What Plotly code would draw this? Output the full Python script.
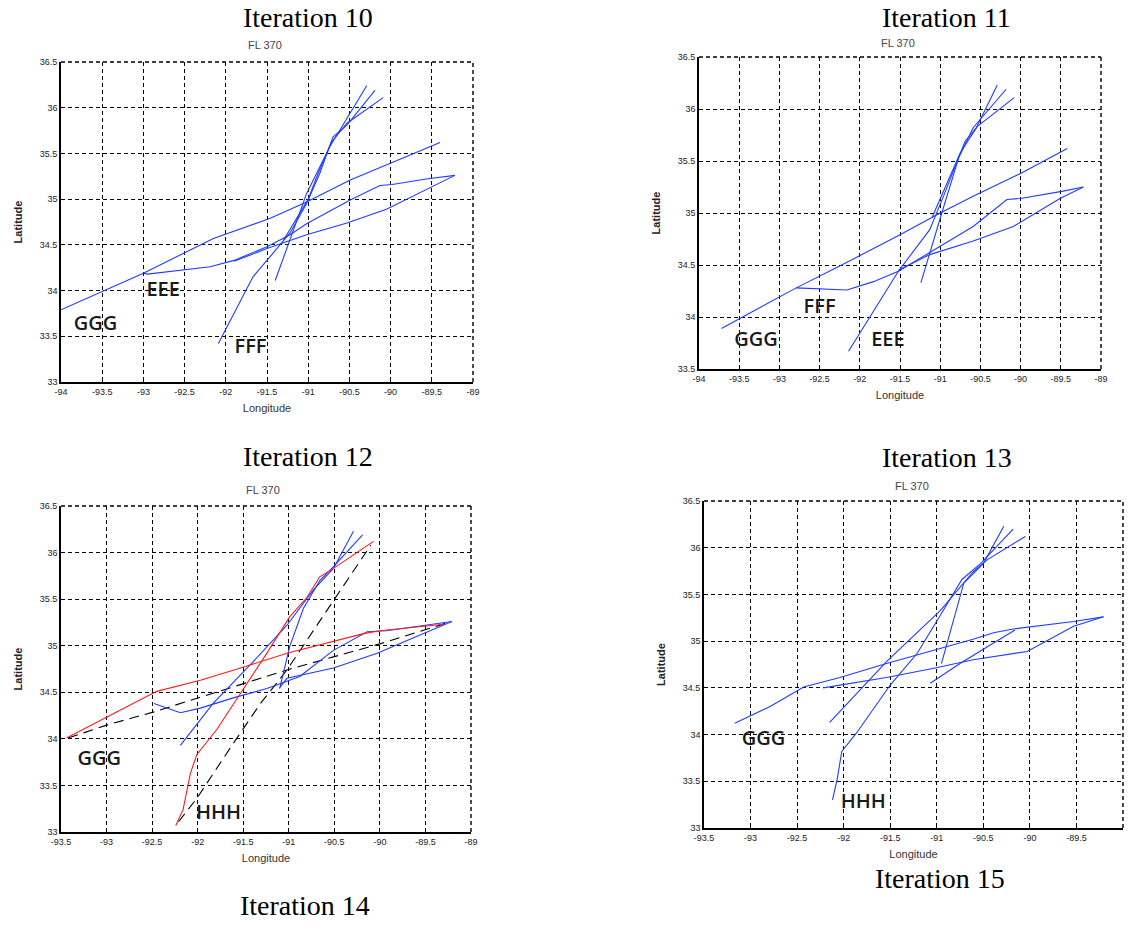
import plotly.graph_objects as go

W, H = 1129, 946

# ---------------- data (lon, lat) ----------------
# Iteration 10
it10_a_lon = [-94.0, -93.0, -92.15, -91.46, -91.02, -90.49, -90.01, -89.40]
it10_a_lat = [33.79, 34.19, 34.57, 34.79, 34.97, 35.21, 35.39, 35.62]
it10_b_lon = [-93.0, -92.95, -92.19, -91.9, -91.5, -91.22, -91.02, -90.49, -90.13, -89.98, -89.57, -89.22]
it10_b_lat = [34.19, 34.18, 34.26, 34.33, 34.48, 34.61, 34.73, 34.99, 35.15, 35.16, 35.22, 35.26]
it10_c_lon = [-89.22, -90.05, -90.53, -91.02, -91.5, -91.9]
it10_c_lat = [35.26, 34.89, 34.74, 34.61, 34.46, 34.32]
it10_d_lon = [-92.09, -91.67, -91.22, -91.02, -90.86, -90.70, -90.53, -90.19]
it10_d_lat = [33.42, 34.15, 34.63, 34.95, 35.28, 35.68, 35.81, 36.19]
it10_e_lon = [-91.40, -91.02, -90.74, -90.29]
it10_e_lat = [34.11, 35.06, 35.57, 36.24]
it10_f_lon = [-91.30, -91.0, -90.88, -90.72, -90.53, -90.09]
it10_f_lat = [34.55, 35.0, 35.28, 35.62, 35.83, 36.11]

# Iteration 11
it11_a_lon = [-93.72, -92.79, -92.25, -91.5, -91.0, -90.59, -90.0, -89.42]
it11_a_lat = [33.89, 34.28, 34.49, 34.79, 35.0, 35.16, 35.38, 35.62]
it11_b_lon = [-92.79, -92.41, -92.16, -91.83, -91.52, -91.13, -90.59, -90.17, -90.0, -89.47, -89.22]
it11_b_lat = [34.28, 34.27, 34.26, 34.34, 34.44, 34.62, 34.87, 35.13, 35.14, 35.21, 35.25]
it11_c_lon = [-89.22, -89.51, -90.09, -90.59, -91.13, -91.52]
it11_c_lat = [35.25, 35.14, 34.87, 34.73, 34.60, 34.45]
it11_d_lon = [-92.14, -91.52, -91.13, -90.96, -90.69, -90.55, -90.29]
it11_d_lat = [33.67, 34.44, 34.84, 35.16, 35.69, 35.82, 36.23]
it11_e_lon = [-91.24, -91.13, -90.98, -90.77, -90.59, -90.18]
it11_e_lat = [34.33, 34.62, 35.0, 35.53, 35.82, 36.19]
it11_f_lon = [-91.10, -90.88, -90.75, -90.54, -90.08]
it11_f_lat = [34.96, 35.35, 35.58, 35.83, 36.11]

# Iteration 12
it12_r1_lon = [-93.44, -92.45, -91.97, -91.53, -91.02, -90.58, -90.18, -90.0, -89.30]
it12_r1_lat = [34.01, 34.51, 34.63, 34.76, 34.92, 35.03, 35.13, 35.16, 35.23]
it12_r2_lon = [-92.24, -92.16, -92.08, -92.01, -91.79, -91.53, -91.24, -90.99, -90.80, -90.66, -90.51, -90.07]
it12_r2_lat = [33.07, 33.24, 33.63, 33.83, 34.10, 34.49, 34.92, 35.31, 35.52, 35.74, 35.83, 36.12]
it12_b1_lon = [-92.19, -91.83, -91.39, -91.02, -90.73, -90.51, -90.29]
it12_b1_lat = [33.93, 34.38, 34.83, 35.22, 35.60, 35.83, 36.23]
it12_b2_lon = [-91.10, -90.99, -90.84, -90.66, -90.51, -90.19]
it12_b2_lat = [34.54, 34.99, 35.40, 35.70, 35.85, 36.19]
it12_b3_lon = [-92.48, -92.19, -91.97, -91.61, -91.24, -90.88, -90.51, -90.14, -89.93, -89.21]
it12_b3_lat = [34.38, 34.28, 34.33, 34.44, 34.54, 34.67, 34.95, 35.15, 35.16, 35.26]
it12_b4_lon = [-89.21, -89.52, -90.03, -90.51, -91.02, -91.10]
it12_b4_lat = [35.26, 35.13, 34.92, 34.76, 34.65, 34.55]
it12_k1_lon = [-93.42, -92.99, -92.48, -91.97, -91.46, -91.02, -90.51, -90.0, -89.41, -89.25]
it12_k1_lat = [34.01, 34.15, 34.29, 34.45, 34.61, 34.74, 34.88, 35.02, 35.20, 35.25]
it12_k2_lon = [-92.21, -92.01, -91.61, -91.31, -91.02, -90.80, -90.51, -90.22, -90.10]
it12_k2_lat = [33.11, 33.36, 33.95, 34.38, 34.74, 35.06, 35.49, 35.90, 36.08]

# Iteration 13
it13_l1_lon = [-93.17, -92.79, -92.43, -92.04, -91.54, -90.96, -90.61, -90.39, -90.18, -89.53, -89.21]
it13_l1_lat = [34.12, 34.30, 34.51, 34.61, 34.76, 34.92, 35.02, 35.09, 35.13, 35.21, 35.26]
it13_l2_lon = [-89.21, -89.53, -90.03, -90.61, -91.03, -91.54, -92.22]
it13_l2_lat = [35.26, 35.16, 34.89, 34.80, 34.71, 34.61, 34.50]
it13_l3_lon = [-91.07, -90.75, -90.39, -90.16]
it13_l3_lat = [34.55, 34.76, 34.98, 35.12]
it13_l4_lon = [-92.15, -91.54, -90.96, -90.61, -90.46, -90.05]
it13_l4_lat = [34.13, 34.78, 35.33, 35.74, 35.87, 36.12]
it13_l5_lon = [-92.12, -92.07, -92.02, -91.86, -91.50, -91.21, -90.96, -90.73, -90.53, -90.18]
it13_l5_lat = [33.30, 33.52, 33.82, 34.02, 34.53, 34.87, 35.28, 35.66, 35.83, 36.20]
it13_l6_lon = [-90.95, -90.87, -90.71, -90.50, -90.28]
it13_l6_lat = [34.76, 35.05, 35.62, 35.83, 36.23]

# labels
it10_labels = ["EEE", "GGG", "FFF"]
it10_lab_lon = [-92.76, -93.58, -91.70]
it10_lab_lat = [33.99, 33.62, 33.37]
it11_labels = ["FFF", "GGG", "EEE"]
it11_lab_lon = [-92.50, -93.29, -91.65]
it11_lab_lat = [34.09, 33.77, 33.77]
it12_labels = ["GGG", "HHH"]
it12_lab_lon = [-93.08, -91.77]
it12_lab_lat = [33.77, 33.19]
it13_labels = ["GGG", "HHH"]
it13_lab_lon = [-92.86, -91.79]
it13_lab_lat = [33.94, 33.27]

# tick values / labels (plain hyphen minus, as in the original)
lon_ticks_a = [-94, -93.5, -93, -92.5, -92, -91.5, -91, -90.5, -90, -89.5, -89]
lon_ticks_b = [-93.5, -93, -92.5, -92, -91.5, -91, -90.5, -90, -89.5, -89]
lat_ticks_a = [33, 33.5, 34, 34.5, 35, 35.5, 36, 36.5]
lat_ticks_b = [33.5, 34, 34.5, 35, 35.5, 36, 36.5]

titles = ["Iteration 10", "Iteration 11", "Iteration 12", "Iteration 13"]
subtitle = "FL 370"
bottom_titles = ["Iteration 14", "Iteration 15"]


def fmt(v):
    return ("%g" % v)


# ---------------- layout helpers ----------------
BLUE = "#1f3cff"
RED = "#ff1a1a"

# page-pixel boxes: left, right, top, bottom
boxes = [(61, 473, 62, 382), (699, 1101, 57, 369), (61, 471, 506, 832), (704, 1123, 501, 828)]
xranges = [(-94, -89), (-94, -89), (-93.5, -89), (-93.5, -89)]
yranges = [(33, 36.5), (33.5, 36.5), (33, 36.5), (33, 36.5)]
xticksets = [lon_ticks_a, lon_ticks_a, lon_ticks_b, lon_ticks_b]
yticksets = [lat_ticks_a, lat_ticks_b, lat_ticks_a, lat_ticks_a]
title_pos = [(308, 18), (946, 18), (308, 456), (947, 457)]
sub_pos = [(265, 45), (898, 43), (263, 490), (912, 486)]
bottom_pos = [(305, 905), (940, 878)]


def px(x):
    return x / W


def py(y):
    return 1 - y / H


fig = go.Figure()

panels = [
    [(it10_a_lon, it10_a_lat, BLUE, "solid"), (it10_b_lon, it10_b_lat, BLUE, "solid"),
     (it10_c_lon, it10_c_lat, BLUE, "solid"), (it10_d_lon, it10_d_lat, BLUE, "solid"),
     (it10_e_lon, it10_e_lat, BLUE, "solid"), (it10_f_lon, it10_f_lat, BLUE, "solid")],
    [(it11_a_lon, it11_a_lat, BLUE, "solid"), (it11_b_lon, it11_b_lat, BLUE, "solid"),
     (it11_c_lon, it11_c_lat, BLUE, "solid"), (it11_d_lon, it11_d_lat, BLUE, "solid"),
     (it11_e_lon, it11_e_lat, BLUE, "solid"), (it11_f_lon, it11_f_lat, BLUE, "solid")],
    [(it12_k1_lon, it12_k1_lat, "black", "dash"), (it12_k2_lon, it12_k2_lat, "black", "dash"),
     (it12_b1_lon, it12_b1_lat, BLUE, "solid"), (it12_b2_lon, it12_b2_lat, BLUE, "solid"),
     (it12_b3_lon, it12_b3_lat, BLUE, "solid"), (it12_b4_lon, it12_b4_lat, BLUE, "solid"),
     (it12_r1_lon, it12_r1_lat, RED, "solid"), (it12_r2_lon, it12_r2_lat, RED, "solid")],
    [(it13_l1_lon, it13_l1_lat, BLUE, "solid"), (it13_l2_lon, it13_l2_lat, BLUE, "solid"),
     (it13_l3_lon, it13_l3_lat, BLUE, "solid"), (it13_l4_lon, it13_l4_lat, BLUE, "solid"),
     (it13_l5_lon, it13_l5_lat, BLUE, "solid"), (it13_l6_lon, it13_l6_lat, BLUE, "solid")],
]
labels = [(it10_labels, it10_lab_lon, it10_lab_lat), (it11_labels, it11_lab_lon, it11_lab_lat),
          (it12_labels, it12_lab_lon, it12_lab_lat), (it13_labels, it13_lab_lon, it13_lab_lat)]

GRID_DASH = "4px,3px"
annotations = []
shapes = []
layout_axes = {}
for i in range(4):
    xa = "x" if i == 0 else f"x{i+1}"
    ya = "y" if i == 0 else f"y{i+1}"
    l, r, t, b = boxes[i]
    for lon, lat, col, dash in panels[i]:
        fig.add_trace(go.Scatter(x=lon, y=lat, mode="lines", xaxis=xa, yaxis=ya,
                                 line=dict(color=col, width=1.1, dash="solid" if dash == "solid" else "10px,6px"),
                                 showlegend=False, hoverinfo="skip"))
    txts, lx, ly = labels[i]
    fig.add_trace(go.Scatter(x=lx, y=ly, mode="text", text=txts, xaxis=xa, yaxis=ya,
                             textfont=dict(family="Open Sans", size=20, color="#1a1a1a", weight=600),
                             textposition="middle center", showlegend=False, hoverinfo="skip"))
    common = dict(showgrid=True, gridcolor="black", griddash=GRID_DASH, gridwidth=1.4,
                  showline=True, linecolor="black", linewidth=1.6, mirror=False,
                  ticks="inside", ticklen=4, tickcolor="black", zeroline=False,
                  tickfont=dict(family="Liberation Sans", size=9, color="#222222"),
                  tickmode="array", automargin=False)
    key_x = "xaxis" if i == 0 else f"xaxis{i+1}"
    key_y = "yaxis" if i == 0 else f"yaxis{i+1}"
    layout_axes[key_x] = dict(common, domain=[px(l), px(r)], anchor=ya, range=list(xranges[i]),
                              tickvals=xticksets[i], ticktext=[fmt(v) for v in xticksets[i]],
                              title=dict(text="Longitude", font=dict(family="Liberation Sans", size=11, color="#333"), standoff=9))
    layout_axes[key_y] = dict(common, domain=[py(b), py(t)], anchor=xa, range=list(yranges[i]),
                              tickvals=yticksets[i], ticktext=[fmt(v) for v in yticksets[i]],
                              title=dict(text="<b>Latitude</b>", font=dict(family="Liberation Sans", size=11, color="#222"), standoff=15))
    # dashed top and right frame edges
    shapes.append(dict(type="line", xref=f"{xa} domain", yref=f"{ya} domain", x0=0, x1=1, y0=1, y1=1,
                       line=dict(color="black", width=1.4, dash=GRID_DASH)))
    shapes.append(dict(type="line", xref=f"{xa} domain", yref=f"{ya} domain", x0=1, x1=1, y0=0, y1=1,
                       line=dict(color="black", width=1.4, dash=GRID_DASH)))
    tx, ty = title_pos[i]
    annotations.append(dict(text=titles[i], x=px(tx), y=py(ty), xref="paper", yref="paper",
                            showarrow=False, font=dict(family="Liberation Serif", size=28, color="black"),
                            xanchor="center", yanchor="middle"))
    sx, sy = sub_pos[i]
    annotations.append(dict(text=subtitle, x=px(sx), y=py(sy), xref="paper", yref="paper",
                            showarrow=False, font=dict(family="Liberation Sans", size=11, color="#444"),
                            xanchor="center", yanchor="middle"))

for txt, (bx, by) in zip(bottom_titles, bottom_pos):
    annotations.append(dict(text=txt, x=px(bx), y=py(by), xref="paper", yref="paper",
                            showarrow=False, font=dict(family="Liberation Serif", size=28, color="black"),
                            xanchor="center", yanchor="middle"))

fig.update_layout(width=W, height=H, margin=dict(l=0, r=0, t=0, b=0),
                  paper_bgcolor="white", plot_bgcolor="white",
                  annotations=annotations, shapes=shapes, **layout_axes)

fig.write_html("out.html", config={"displayModeBar": False},
               post_script="document.body.style.margin='0px';")
